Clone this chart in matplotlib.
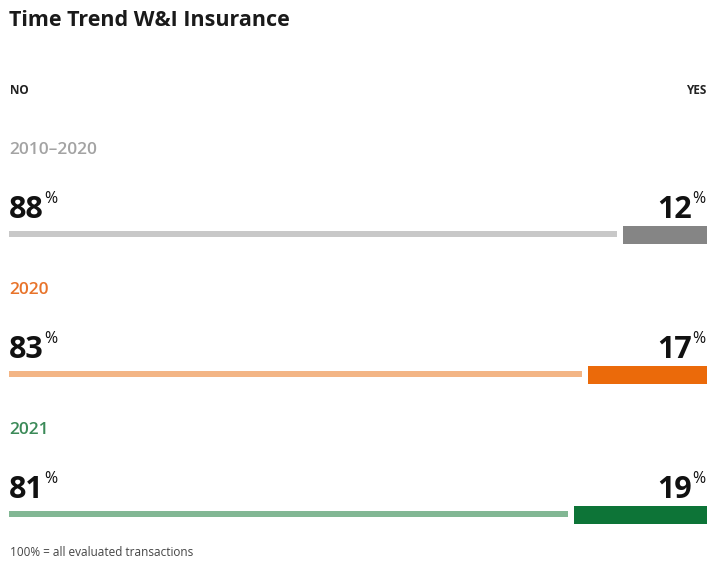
import matplotlib.pyplot as plt

periods = ["2010–2020", "2020", "2021"]
no_share = [88, 83, 81]
yes_share = [12, 17, 19]
period_colors = ["#a3a3a3", "#e8732a", "#3b8a58"]
no_colors = ["#c8c8c8", "#f3b585", "#82b794"]
yes_colors = ["#858585", "#eb6a0a", "#0d7437"]

FONT = "Open Sans"
GAP = 0.9          # white gap between NO and YES bar, in percent units
ROW_STEP = 140     # pixel distance between the three blocks

fig = plt.figure(figsize=(7.10, 5.62), dpi=100)
ax = fig.add_axes([9 / 710, 0, 698 / 710, 1])
ax.set_xlim(0, 100)
ax.set_ylim(562, 0)
ax.axis("off")

renderer = fig.canvas.get_renderer()


def pct_label(x, y, value, right=False):
    # big number with a small raised percent sign
    if not right:
        t = ax.text(x, y, str(value), fontsize=22, fontweight="bold", family=FONT,
                    color="#111111", ha="left", va="baseline")
        bb = t.get_window_extent(renderer).transformed(ax.transData.inverted())
        ax.text(bb.x1 + 0.02, y - 27, "%", fontsize=11.5, family=FONT,
                color="#111111", ha="left", va="top")
    else:
        p = ax.text(x, y - 27, "%", fontsize=11.5, family=FONT,
                    color="#111111", ha="right", va="top")
        bb = p.get_window_extent(renderer).transformed(ax.transData.inverted())
        ax.text(bb.x0 - 0.02, y, str(value), fontsize=22, fontweight="bold", family=FONT,
                color="#111111", ha="right", va="baseline")


ax.text(0.0, 20, "Time Trend W&I Insurance", fontsize=15.5, fontweight="bold",
        family=FONT, color="#1a1a1a", ha="left", va="center")
ax.text(0.1, 90, "NO", fontsize=8.5, fontweight="bold", family=FONT,
        color="#222222", ha="left", va="center")
ax.text(99.9, 90, "YES", fontsize=8.5, fontweight="bold", family=FONT,
        color="#222222", ha="right", va="center")

for i, period in enumerate(periods):
    off = i * ROW_STEP
    ax.text(0.1, 150 + off, period, fontsize=12.5, fontweight="semibold", family=FONT,
            color=period_colors[i], ha="left", va="center")
    pct_label(0.0, 218 + off, no_share[i])
    pct_label(99.8, 218 + off, yes_share[i], right=True)
    ax.barh(234 + off, no_share[i] - GAP, left=0, height=6.5, color=no_colors[i])
    ax.barh(235 + off, yes_share[i], left=no_share[i], height=18.5, color=yes_colors[i])

ax.text(0.1, 552, "100% = all evaluated transactions", fontsize=8.5, family=FONT,
        color="#444444", ha="left", va="center")

fig.savefig("out.png", dpi=100)
